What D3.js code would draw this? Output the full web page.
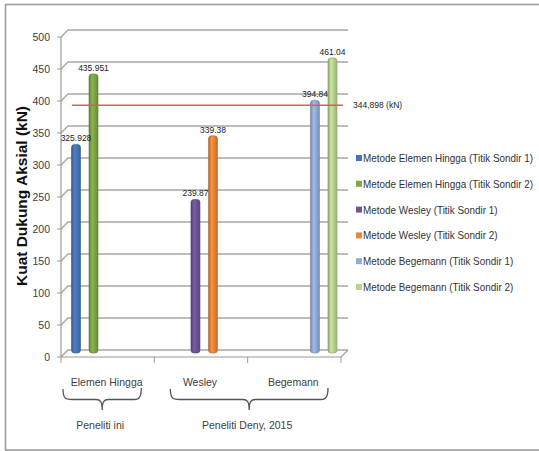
<!DOCTYPE html>
<html>
<head>
<meta charset="utf-8">
<script src="https://cdn.jsdelivr.net/npm/d3@7"></script>
<style>
  body { margin: 0; background: #fff; }
  svg { font-family: "Liberation Sans", Arial, sans-serif; }
  .tick-label { font-size: 10.5px; fill: #404040; }
  .legend { font-size: 11px; fill: #333; }
  .val { font-size: 8.5px; fill: #222; }
</style>
</head>
<body>
<div id="chart"></div>
<script>
// chart data
var categories = ["Elemen Hingga", "Wesley", "Begemann"];
var sondirPoints = ["Titik Sondir 1", "Titik Sondir 2"];
var sondir1 = [325.928, 239.87, 394.84];
var sondir2 = [435.951, 339.38, 461.04];
var seriesNames = [
  "Metode Elemen Hingga (Titik Sondir 1)",
  "Metode Elemen Hingga (Titik Sondir 2)",
  "Metode Wesley (Titik Sondir 1)",
  "Metode Wesley (Titik Sondir 2)",
  "Metode Begemann (Titik Sondir 1)",
  "Metode Begemann (Titik Sondir 2)"
];
var seriesColors = ["#4675b3", "#7ea645", "#6f5498", "#e8863a", "#93acd6", "#b9d48f"];
var yTicks = [0, 50, 100, 150, 200, 250, 300, 350, 400, 450, 500];
var refValue = 387;
var refLabel = "344,898 (kN)";
var groups = [
  { name: "Peneliti ini", from: "Elemen Hingga", to: "Elemen Hingga" },
  { name: "Peneliti Deny, 2015", from: "Wesley", to: "Begemann" }
];

var width = 539,
  height = 451,
  depthX = 7,
  depthY = -7,
  barWidth = 9;

var svg = d3
  .select("#chart")
  .append("svg")
  .attr("width", width)
  .attr("height", height);

// outer frame
svg
  .append("rect")
  .attr("x", 5.5)
  .attr("y", 4.5)
  .attr("width", 600)
  .attr("height", 445.5)
  .attr("fill", "none")
  .attr("stroke", "#9c9c9c")
  .attr("stroke-width", 1.6);

var yscale = d3.scaleLinear().domain([0, 500]).range([357, 37]);
var xscale = d3.scaleBand().domain(categories).range([61, 341]);
// each method sits in its own depth/slot inside the category, like excel's 3d clustered columns
var slot = d3.scalePoint().domain(categories).range([15, 67.3]);
var sondir = d3.scalePoint().domain(sondirPoints).range([0, 17.5]);

var data = [];
categories.forEach((c, i) => {
  data.push({ cat: c, s: sondirPoints[0], value: sondir1[i], series: i * 2 });
  data.push({ cat: c, s: sondirPoints[1], value: sondir2[i], series: i * 2 + 1 });
});

// gridlines on back wall with slanted connectors to the axis
var grid = svg.append("g");
yTicks.forEach((t) => {
  var y0 = yscale(t);
  grid
    .append("path")
    .attr(
      "d",
      "M61," + y0 + " L" + (61 + depthX) + "," + (y0 + depthY) + " L" + (341 + depthX) + "," + (y0 + depthY)
    )
    .attr("fill", "none")
    .attr("stroke", "#a6a6a6")
    .attr("stroke-width", 1.4);
});

// floor right edge
svg
  .append("path")
  .attr("d", "M341," + yscale(0) + " L" + (341 + depthX) + "," + (yscale(0) + depthY))
  .attr("stroke", "#a6a6a6")
  .attr("stroke-width", 1.4);

// y axis
var yAxis = svg.append("g");
yAxis
  .append("line")
  .attr("x1", 61)
  .attr("x2", 61)
  .attr("y1", yscale(500))
  .attr("y2", yscale(0))
  .attr("stroke", "#9a9a9a")
  .attr("stroke-width", 1.2);
yTicks.forEach((t) => {
  yAxis
    .append("line")
    .attr("x1", 57)
    .attr("x2", 61)
    .attr("y1", yscale(t))
    .attr("y2", yscale(t))
    .attr("stroke", "#9a9a9a");
  yAxis
    .append("text")
    .attr("class", "tick-label")
    .attr("x", 50)
    .attr("y", yscale(t) + 4)
    .attr("text-anchor", "end")
    .text(t);
});

// x axis
var xAxis = svg.append("g");
xAxis
  .append("line")
  .attr("x1", 61)
  .attr("x2", 341)
  .attr("y1", yscale(0))
  .attr("y2", yscale(0))
  .attr("stroke", "#9a9a9a")
  .attr("stroke-width", 1.2);
categories.concat(["end"]).forEach((c, i) => {
  var xx = i < categories.length ? xscale(c) : xscale.range()[1];
  xAxis
    .append("line")
    .attr("x1", xx)
    .attr("x2", xx)
    .attr("y1", yscale(0))
    .attr("y2", yscale(0) + 6)
    .attr("stroke", "#9a9a9a");
});
categories.forEach((c) => {
  xAxis
    .append("text")
    .attr("class", "tick-label")
    .attr("x", xscale(c) + xscale.bandwidth() / 2 - 1)
    .attr("y", 386)
    .attr("text-anchor", "middle")
    .attr("fill", "#333")
    .text(c);
});

// gradients for the cylinder look
var defs = svg.append("defs");
seriesColors.forEach((col, i) => {
  var g = defs
    .append("linearGradient")
    .attr("id", "grad" + i)
    .attr("x1", "0%")
    .attr("x2", "100%");
  g.append("stop").attr("offset", "0%").attr("stop-color", d3.color(col).darker(0.7));
  g.append("stop").attr("offset", "35%").attr("stop-color", d3.color(col).brighter(0.25));
  g.append("stop").attr("offset", "100%").attr("stop-color", d3.color(col).darker(0.5));
});

var barX = (d) => xscale(d.cat) + slot(d.cat) + sondir(d.s);

svg
  .selectAll("rect.bar")
  .data(data)
  .enter()
  .append("rect")
  .attr("class", "bar")
  .attr("x", (d) => barX(d) - barWidth / 2)
  .attr("y", (d) => yscale(d.value) - 4)
  .attr("width", barWidth)
  .attr("height", (d) => yscale(0) - yscale(d.value))
  .attr("rx", 3)
  .attr("fill", (d) => "url(#grad" + d.series + ")")
  .attr("stroke", (d) => d3.color(seriesColors[d.series]).darker(0.8))
  .attr("stroke-width", 0.6);

svg
  .selectAll("text.val")
  .data(data)
  .enter()
  .append("text")
  .attr("class", "val")
  .attr("x", (d) => barX(d))
  .attr("y", (d) => yscale(d.value) - 7)
  .attr("text-anchor", "middle")
  .text((d) => String(d.value));

// reference line
svg
  .append("line")
  .attr("x1", 72)
  .attr("x2", 343)
  .attr("y1", yscale(refValue) - 4)
  .attr("y2", yscale(refValue) - 4)
  .attr("stroke", "#e05a5a")
  .attr("stroke-width", 1.4);
svg
  .append("text")
  .attr("class", "val")
  .attr("x", 353)
  .attr("y", yscale(refValue) - 1)
  .attr("fill", "#333")
  .text(refLabel);

// legend
var legend = svg
  .selectAll("g.leg")
  .data(seriesNames)
  .enter()
  .append("g")
  .attr("class", "leg")
  .attr("transform", (d, i) => "translate(356," + (158 + i * 25.8) + ")");
legend
  .append("rect")
  .attr("x", 0)
  .attr("y", -3)
  .attr("width", 6)
  .attr("height", 6)
  .attr("fill", (d, i) => seriesColors[i]);
var legText = legend
  .append("text")
  .attr("class", "legend")
  .attr("x", 7)
  .attr("y", 4)
  .text((d) => d);
// squeeze the text so it looks like the narrow office font
var longest = d3.max(legText.nodes(), (n) => n.getComputedTextLength());
var squeeze = 170 / longest;
legText.each(function () {
  var w = this.getComputedTextLength();
  d3.select(this).attr("textLength", w * squeeze).attr("lengthAdjust", "spacingAndGlyphs");
});

// y title
svg
  .append("text")
  .attr("transform", "rotate(-90)")
  .attr("x", -196)
  .attr("y", 27)
  .attr("text-anchor", "middle")
  .attr("font-weight", "bold")
  .attr("font-size", "14px")
  .attr("fill", "#111")
  .attr("textLength", 180)
  .attr("lengthAdjust", "spacingAndGlyphs")
  .text("Kuat Dukung Aksial (kN)");

// curly braces under the categories
function brace(x1, x2, top, tip) {
  var mid = (x1 + x2) / 2;
  var flat = (top + tip) / 2;
  return (
    "M" + x1 + "," + top +
    " C" + x1 + "," + (flat + 1) + " " + (x1 + 4) + "," + flat + " " + (x1 + 12) + "," + flat +
    " L" + (mid - 6) + "," + flat +
    " C" + (mid - 2) + "," + flat + " " + mid + "," + (flat + 2) + " " + mid + "," + tip +
    " C" + mid + "," + (flat + 2) + " " + (mid + 2) + "," + flat + " " + (mid + 6) + "," + flat +
    " L" + (x2 - 12) + "," + flat +
    " C" + (x2 - 4) + "," + flat + " " + x2 + "," + (flat + 1) + " " + x2 + "," + (top - 1)
  );
}
groups.forEach((g) => {
  var a = xscale(g.from) + 2;
  var b = xscale(g.to) + xscale.bandwidth() - 13;
  if (g.from !== g.to) {
    a = xscale(g.from) + 16;
    b = xscale(g.to) + xscale.bandwidth() - 13;
  }
  svg
    .append("path")
    .attr("d", brace(a, b, 389, 410))
    .attr("fill", "none")
    .attr("stroke", "#555")
    .attr("stroke-width", 1.3);
  svg
    .append("text")
    .attr("class", "tick-label")
    .attr("x", (a + b) / 2 - 2)
    .attr("y", 429)
    .attr("text-anchor", "middle")
    .attr("fill", "#333")
    .text(g.name);
});
</script>
</body>
</html>
